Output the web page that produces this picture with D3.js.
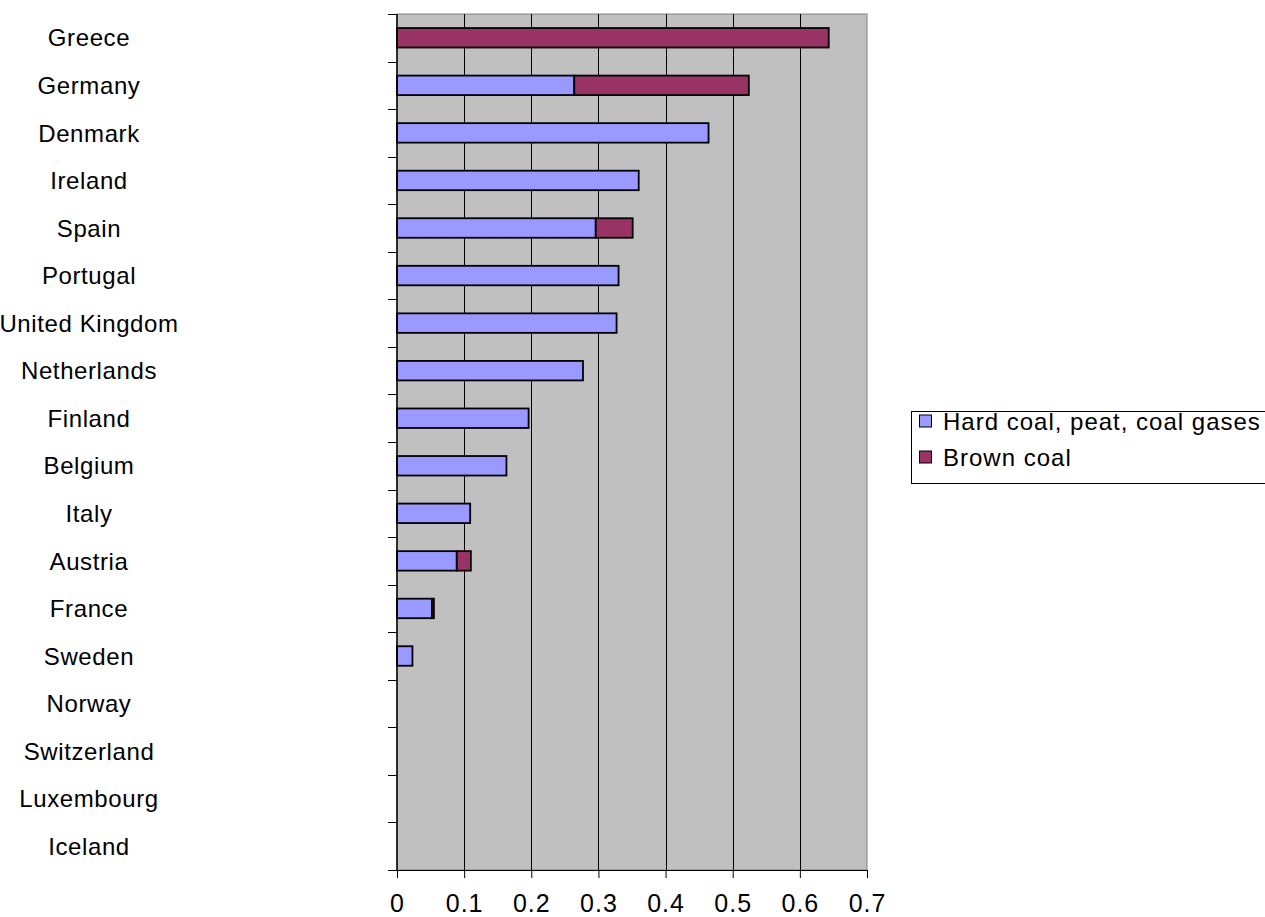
<!DOCTYPE html>
<html>
<head>
<meta charset="utf-8">
<script src="https://cdn.jsdelivr.net/npm/d3@7"></script>
<style>
  html, body { margin: 0; padding: 0; background: #ffffff; }
  svg { display: block; }
  text { font-family: "Liberation Sans", Arial, sans-serif; fill: #000; }
</style>
</head>
<body>
<svg id="chart" width="1265" height="917"></svg>
<script>
// Share of coal in electricity generation, by country
const categories = ["Greece", "Germany", "Denmark", "Ireland", "Spain", "Portugal",
  "United Kingdom", "Netherlands", "Finland", "Belgium", "Italy", "Austria",
  "France", "Sweden", "Norway", "Switzerland", "Luxembourg", "Iceland"];
const hardCoal = [0, 0.264, 0.464, 0.360, 0.296, 0.330, 0.327, 0.277, 0.196, 0.163,
  0.109, 0.089, 0.052, 0.023, 0, 0, 0, 0];
const brownCoal = [0.643, 0.260, 0, 0, 0.055, 0, 0, 0, 0, 0, 0, 0.021, 0.003, 0, 0, 0, 0, 0];
const seriesNames = ["Hard coal, peat, coal gases", "Brown coal"];
const xTicks = [0, 0.1, 0.2, 0.3, 0.4, 0.5, 0.6, 0.7];

const colors = ["#9999FF", "#993366"];

const svg = d3.select("#chart");
const plot = { left: 397, right: 867, top: 14, bottom: 870 };

const x = d3.scaleLinear().domain([0, 0.7]).range([plot.left, plot.right]);
const y = d3.scaleBand().domain(categories).range([plot.top, plot.bottom]).padding(0);
const barH = y.bandwidth() * 0.41;

// plot background
svg.append("rect")
  .attr("x", plot.left).attr("y", plot.top)
  .attr("width", plot.right - plot.left).attr("height", plot.bottom - plot.top)
  .attr("fill", "#C0C0C0")
  .attr("stroke", "#808080").attr("stroke-width", 1);

// vertical gridlines
svg.append("g")
  .selectAll("line")
  .data(xTicks.slice(1, -1))
  .join("line")
  .attr("x1", d => Math.round(x(d)) + 0.5).attr("x2", d => Math.round(x(d)) + 0.5)
  .attr("y1", plot.top).attr("y2", plot.bottom)
  .attr("stroke", "#000").attr("stroke-width", 1);

// stacked bars
const rows = categories.map((c, i) => ({ c, vals: [hardCoal[i], brownCoal[i]] }));
const segs = [];
rows.forEach(r => {
  let acc = 0;
  r.vals.forEach((v, s) => {
    if (v > 0) segs.push({ c: r.c, s, x0: acc, x1: acc + v });
    acc += v;
  });
});
svg.append("g")
  .selectAll("rect")
  .data(segs)
  .join("rect")
  .attr("x", d => x(d.x0))
  .attr("y", d => y(d.c) + (y.bandwidth() - barH) / 2)
  .attr("width", d => x(d.x1) - x(d.x0))
  .attr("height", barH)
  .attr("fill", d => colors[d.s])
  .attr("stroke", "#000").attr("stroke-width", 1.8);

// x axis
const xAxis = svg.append("g")
  .attr("transform", `translate(0,${plot.bottom})`)
  .call(d3.axisBottom(x).tickValues(xTicks).tickFormat(d3.format("")).tickSize(8).tickSizeOuter(0));
xAxis.select(".domain").attr("stroke", "#000").attr("stroke-width", 1.2);
xAxis.selectAll(".tick line").attr("stroke", "#000");
xAxis.selectAll(".tick text")
  .attr("font-size", 25).attr("font-family", "Liberation Sans, Arial, sans-serif")
  .attr("letter-spacing", 1)
  .attr("y", 42).attr("dy", null);

// y axis: ticks at category boundaries
const yAxis = svg.append("g");
yAxis.append("line")
  .attr("x1", plot.left).attr("x2", plot.left)
  .attr("y1", plot.top).attr("y2", plot.bottom)
  .attr("stroke", "#000").attr("stroke-width", 1.5);
const bounds = categories.map(c => y(c)).concat([plot.bottom]);
yAxis.selectAll("line.tk")
  .data(bounds)
  .join("line")
  .attr("class", "tk")
  .attr("x1", plot.left - 9).attr("x2", plot.left)
  .attr("y1", d => Math.round(d) + 0.5).attr("y2", d => Math.round(d) + 0.5)
  .attr("stroke", "#000").attr("stroke-width", 1);

// category labels
svg.append("g")
  .selectAll("text")
  .data(categories)
  .join("text")
  .attr("x", 89)
  .attr("y", d => y(d) + y.bandwidth() / 2)
  .attr("dy", "0.36em")
  .attr("text-anchor", "middle")
  .attr("font-size", 24)
  .attr("letter-spacing", 0.6)
  .text(d => d);

// legend
const lg = svg.append("g");
lg.append("rect")
  .attr("x", 911.5).attr("y", 411.5)
  .attr("width", 360).attr("height", 72)
  .attr("fill", "#fff").attr("stroke", "#000").attr("stroke-width", 1);
const items = lg.selectAll("g.item")
  .data(seriesNames)
  .join("g")
  .attr("class", "item")
  .attr("transform", (d, i) => `translate(0,${421.5 + i * 36})`);
items.append("rect")
  .attr("x", 919.5).attr("y", -6.5)
  .attr("width", 12).attr("height", 12)
  .attr("fill", (d, i) => colors[i])
  .attr("stroke", "#000").attr("stroke-width", 1);
items.append("text")
  .attr("x", 943)
  .attr("dy", "0.36em")
  .attr("font-size", 24)
  .attr("letter-spacing", 1)
  .text(d => d);
</script>
</body>
</html>
